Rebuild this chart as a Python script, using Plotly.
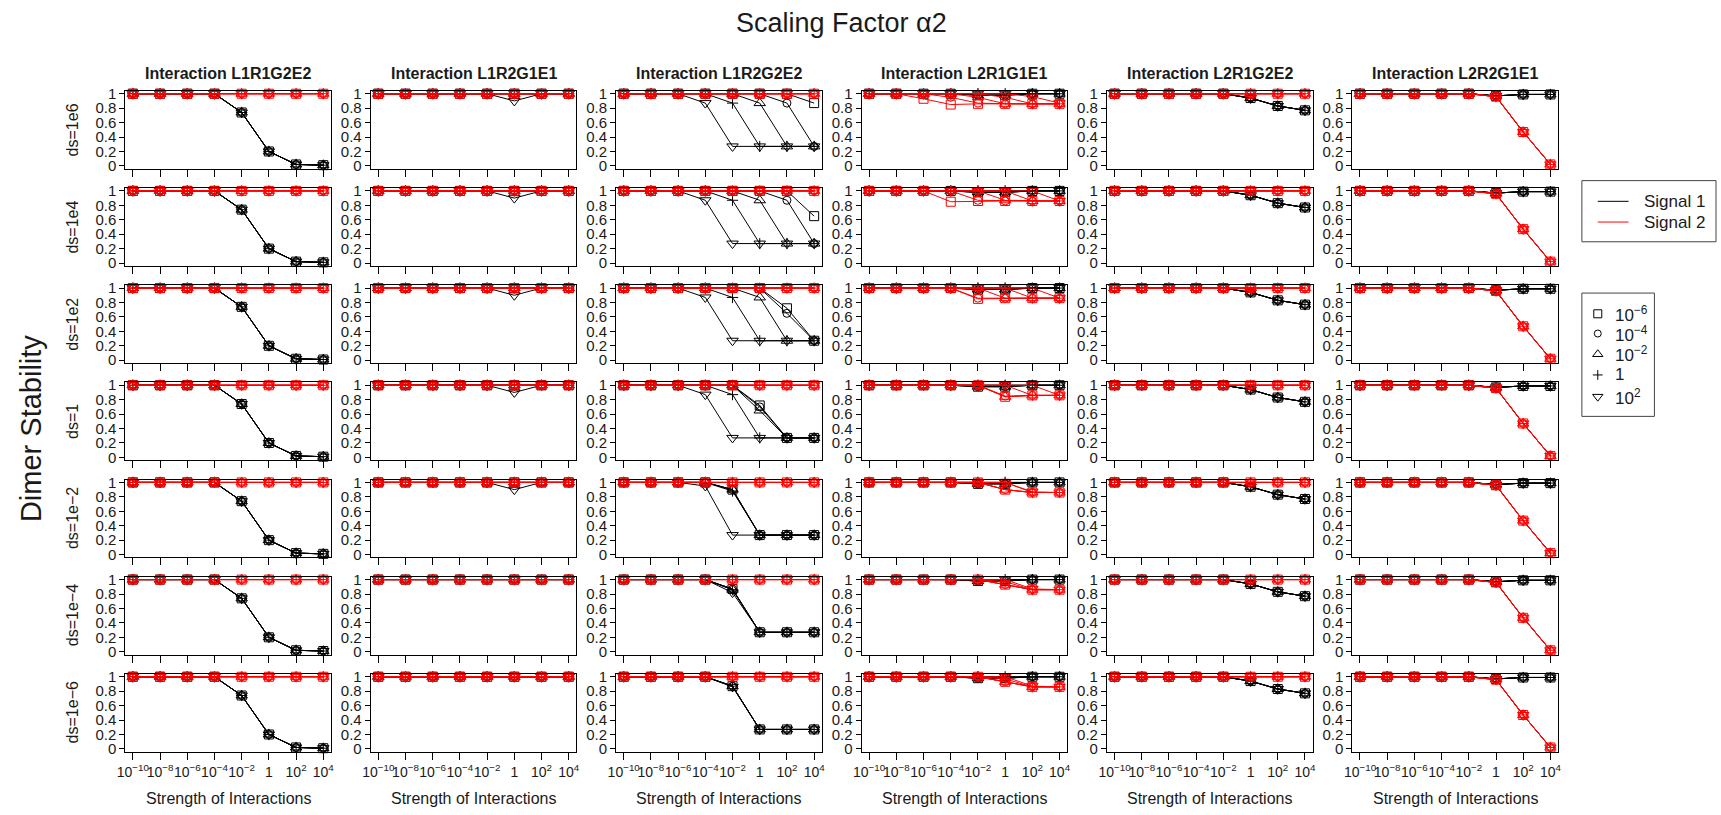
import plotly.graph_objects as go

# ---------------------------------------------------------------- data
strength = [1e-10, 1e-8, 1e-6, 1e-4, 1e-2, 1, 1e2, 1e4]
strength_labels = ["10<sup>−10</sup>", "10<sup>−8</sup>", "10<sup>−6</sup>", "10<sup>−4</sup>",
                   "10<sup>−2</sup>", "1", "10<sup>2</sup>", "10<sup>4</sup>"]
stability_ticks = [0, 0.2, 0.4, 0.6, 0.8, 1]
stability_labels = ["0", "0.2", "0.4", "0.6", "0.8", "1"]

interactions = ["L1R1G2E2", "L1R2G1E1", "L1R2G2E2", "L2R1G1E1", "L2R1G2E2", "L2R2G1E1"]
ds_labels = ["ds=1e6", "ds=1e4", "ds=1e2", "ds=1", "ds=1e−2", "ds=1e−4", "ds=1e−6"]
alpha_labels = ["10<sup>−6</sup>", "10<sup>−4</sup>", "10<sup>−2</sup>", "1", "10<sup>2</sup>"]
alpha_symbols = ["square-open", "circle-open", "triangle-up-open", "cross-thin-open", "triangle-down-open"]
alpha_sizes = [9, 8, 10, 8, 10]

FLAT = [1, 1, 1, 1, 1, 1, 1, 1]

# L1R1G2E2: same curve for every alpha and every ds
l1r1g2e2_sig1 = [1, 1, 1, 1, 0.74, 0.20, 0.02, 0.01]
l1r1g2e2_sig2 = FLAT

# L1R2G1E1: only alpha = 10^2 dips at strength 1 (ds >= 1e-2)
l1r2g1e1_dip = [1, 1, 1, 1, 1, 0.90, 1, 1]
l1r2g1e1_dip_rows = [True, True, True, True, True, False, False]
l1r2g1e1_sig2 = FLAT

# L1R2G2E2 signal 1, per ds row, per alpha (10^-6, 10^-4, 10^-2, 1, 10^2)
l1r2g2e2_sig1 = [
    [[1, 1, 1, 1, 1, 1, 1, 0.87],
     [1, 1, 1, 1, 1, 1, 0.87, 0.27],
     [1, 1, 1, 1, 1, 0.87, 0.27, 0.27],
     [1, 1, 1, 1, 0.87, 0.27, 0.27, 0.27],
     [1, 1, 1, 0.87, 0.27, 0.27, 0.27, 0.27]],
    [[1, 1, 1, 1, 1, 1, 1, 0.65],
     [1, 1, 1, 1, 1, 1, 0.87, 0.27],
     [1, 1, 1, 1, 1, 0.87, 0.27, 0.27],
     [1, 1, 1, 1, 0.87, 0.27, 0.27, 0.27],
     [1, 1, 1, 0.87, 0.27, 0.27, 0.27, 0.27]],
    [[1, 1, 1, 1, 1, 1, 0.72, 0.27],
     [1, 1, 1, 1, 1, 1, 0.65, 0.27],
     [1, 1, 1, 1, 1, 0.87, 0.27, 0.27],
     [1, 1, 1, 1, 0.87, 0.27, 0.27, 0.27],
     [1, 1, 1, 0.87, 0.27, 0.27, 0.27, 0.27]],
    [[1, 1, 1, 1, 1, 0.72, 0.27, 0.27],
     [1, 1, 1, 1, 1, 0.70, 0.27, 0.27],
     [1, 1, 1, 1, 1, 0.65, 0.27, 0.27],
     [1, 1, 1, 1, 0.87, 0.27, 0.27, 0.27],
     [1, 1, 1, 0.87, 0.27, 0.27, 0.27, 0.27]],
    [[1, 1, 1, 1, 0.90, 0.27, 0.27, 0.27],
     [1, 1, 1, 1, 0.90, 0.27, 0.27, 0.27],
     [1, 1, 1, 1, 0.90, 0.27, 0.27, 0.27],
     [1, 1, 1, 1, 0.88, 0.27, 0.27, 0.27],
     [1, 1, 1, 0.95, 0.27, 0.27, 0.27, 0.27]],
    [[1, 1, 1, 1, 0.87, 0.27, 0.27, 0.27],
     [1, 1, 1, 1, 0.87, 0.27, 0.27, 0.27],
     [1, 1, 1, 1, 0.86, 0.27, 0.27, 0.27],
     [1, 1, 1, 1, 0.86, 0.27, 0.27, 0.27],
     [1, 1, 1, 1, 0.82, 0.27, 0.27, 0.27]],
    [[1, 1, 1, 1, 0.87, 0.27, 0.27, 0.27],
     [1, 1, 1, 1, 0.87, 0.27, 0.27, 0.27],
     [1, 1, 1, 1, 0.87, 0.27, 0.27, 0.27],
     [1, 1, 1, 1, 0.87, 0.27, 0.27, 0.27],
     [1, 1, 1, 1, 0.86, 0.27, 0.27, 0.27]],
]
l1r2g2e2_sig2 = FLAT

# L2R1G1E1: signal 1 stays near 1, signal 2 settles near 0.86
l2r1g1e1_sig1 = [1, 1, 1, 1, 0.98, 0.98, 1, 1]
l2r1g1e1_sig2 = [
    [[1, 1, 0.93, 0.85, 0.86, 0.86, 0.86, 0.86],
     [1, 1, 1, 0.95, 0.87, 0.86, 0.86, 0.86],
     [1, 1, 1, 1, 0.95, 0.86, 0.86, 0.86],
     [1, 1, 1, 1, 1, 0.95, 0.86, 0.86],
     [1, 1, 1, 1, 1, 1, 0.96, 0.87]],
    [[1, 1, 1, 0.85, 0.86, 0.86, 0.86, 0.86],
     [1, 1, 1, 1, 0.87, 0.86, 0.86, 0.86],
     [1, 1, 1, 1, 1, 0.87, 0.86, 0.86],
     [1, 1, 1, 1, 1, 1, 0.86, 0.86],
     [1, 1, 1, 1, 1, 1, 1, 0.86]],
    [[1, 1, 1, 1, 0.85, 0.86, 0.86, 0.86],
     [1, 1, 1, 1, 0.86, 0.86, 0.86, 0.86],
     [1, 1, 1, 1, 1, 0.86, 0.86, 0.86],
     [1, 1, 1, 1, 1, 1, 0.86, 0.86],
     [1, 1, 1, 1, 1, 1, 1, 0.86]],
    [[1, 1, 1, 1, 1, 0.84, 0.86, 0.86],
     [1, 1, 1, 1, 1, 0.85, 0.86, 0.86],
     [1, 1, 1, 1, 1, 0.84, 0.86, 0.86],
     [1, 1, 1, 1, 1, 1, 0.86, 0.86],
     [1, 1, 1, 1, 1, 1, 1, 0.86]],
    [[1, 1, 1, 1, 1, 0.90, 0.86, 0.86],
     [1, 1, 1, 1, 1, 0.90, 0.86, 0.86],
     [1, 1, 1, 1, 1, 0.90, 0.86, 0.86],
     [1, 1, 1, 1, 1, 1, 0.86, 0.86],
     [1, 1, 1, 1, 1, 1, 0.87, 0.86]],
    [[1, 1, 1, 1, 1, 0.93, 0.86, 0.86],
     [1, 1, 1, 1, 1, 0.93, 0.86, 0.86],
     [1, 1, 1, 1, 1, 0.93, 0.86, 0.86],
     [1, 1, 1, 1, 1, 0.97, 0.86, 0.86],
     [1, 1, 1, 1, 1, 1, 0.87, 0.86]],
    [[1, 1, 1, 1, 1, 0.93, 0.86, 0.86],
     [1, 1, 1, 1, 1, 0.93, 0.86, 0.86],
     [1, 1, 1, 1, 1, 0.93, 0.86, 0.86],
     [1, 1, 1, 1, 1, 0.97, 0.86, 0.86],
     [1, 1, 1, 1, 1, 1, 0.87, 0.86]],
]

# L2R1G2E2
l2r1g2e2_sig1 = [1, 1, 1, 1, 1, 0.94, 0.83, 0.77]
l2r1g2e2_sig2 = FLAT

# L2R2G1E1
l2r2g1e1_sig1 = [1, 1, 1, 1, 1, 0.97, 0.99, 0.99]
l2r2g1e1_sig2 = [1, 1, 1, 1, 1, 0.96, 0.47, 0.02]

SIGNAL_COLORS = ["black", "red"]
signal_names = ["Signal 1", "Signal 2"]


def panel_curves(col, row):
    """Return (signal1, signal2) lists of 5 curves (one per alpha)."""
    if col == 0:
        return [l1r1g2e2_sig1] * 5, [l1r1g2e2_sig2] * 5
    if col == 1:
        s1 = [FLAT] * 4 + [l1r2g1e1_dip if l1r2g1e1_dip_rows[row] else FLAT]
        return s1, [l1r2g1e1_sig2] * 5
    if col == 2:
        return l1r2g2e2_sig1[row], [l1r2g2e2_sig2] * 5
    if col == 3:
        s1 = [l2r1g1e1_sig1] * 3 + [FLAT] * 2
        return s1, l2r1g1e1_sig2[row]
    if col == 4:
        return [l2r1g2e2_sig1] * 5, [l2r1g2e2_sig2] * 5
    return [l2r2g1e1_sig1] * 5, [l2r2g1e1_sig2] * 5


# ---------------------------------------------------------------- layout geometry (pixels)
W, H = 1721, 815
col_left = [118, 365, 612, 859, 1106, 1353]
panel_w = 207
row_top0, row_pitch, panel_h = 86, 98.5, 79

FONT = "Liberation Sans, Arial, sans-serif"
TXT = "#1a1a1a"
XTICK_SIZE = 14
YTICK_SIZE = 15


def px_x(p):
    return p / W


def px_y(p):
    return 1 - p / H


fig = go.Figure()
layout = dict(
    width=W, height=H, margin=dict(l=0, r=0, t=0, b=0),
    paper_bgcolor="white", plot_bgcolor="rgba(0,0,0,0)", showlegend=False,
    font=dict(family=FONT, color=TXT),
)

annotations = []
shapes = []

for r in range(7):
    top = row_top0 + r * row_pitch
    for c in range(6):
        k = r * 6 + c + 1
        sfx = "" if k == 1 else str(k)
        left = col_left[c]
        layout["xaxis" + sfx] = dict(
            domain=[px_x(left), px_x(left + panel_w)], anchor="y" + sfx,
            type="log", range=[-10.56, 4.56],
            tickmode="array", tickvals=strength, ticktext=strength_labels,
            showticklabels=(r == 6), tickangle=0, ticks="outside", ticklen=7, tickwidth=1,
            tickcolor="black", showline=True, mirror=True, linecolor="black",
            linewidth=1, showgrid=False, zeroline=False,
            tickfont=dict(size=XTICK_SIZE, family=FONT, color=TXT),
        )
        layout["yaxis" + sfx] = dict(
            domain=[px_y(top + panel_h), px_y(top)], anchor="x" + sfx,
            range=[-0.04, 1.04], tickmode="array",
            tickvals=stability_ticks, ticktext=stability_labels,
            ticks="outside", ticklen=5, tickwidth=1, tickcolor="black",
            showline=True, mirror=True, linecolor="black", linewidth=1,
            showgrid=False, zeroline=False,
            tickfont=dict(size=YTICK_SIZE, family=FONT, color=TXT),
        )
        sig1, sig2 = panel_curves(c, r)
        for s_idx, curves in enumerate([sig1, sig2]):
            for a_idx, yv in enumerate(curves):
                fig.add_trace(go.Scatter(
                    x=strength, y=yv, xaxis="x" + sfx, yaxis="y" + sfx,
                    mode="lines+markers", cliponaxis=False,
                    line=dict(color=SIGNAL_COLORS[s_idx], width=1),
                    marker=dict(symbol=alpha_symbols[a_idx], size=alpha_sizes[a_idx],
                                color=SIGNAL_COLORS[s_idx],
                                line=dict(color=SIGNAL_COLORS[s_idx], width=1)),
                    name=signal_names[s_idx], hoverinfo="skip",
                ))

        if r == 0:
            annotations.append(dict(
                x=px_x(left + panel_w / 2), y=px_y(68), xref="paper", yref="paper",
                text="<b>Interaction " + interactions[c] + "</b>", showarrow=False,
                font=dict(size=16, family=FONT, color=TXT), xanchor="center", yanchor="middle"))
        if r == 6:
            annotations.append(dict(
                x=px_x(left + panel_w / 2), y=px_y(803), xref="paper", yref="paper",
                text="Strength of Interactions", showarrow=False,
                font=dict(size=16, family=FONT, color=TXT), xanchor="center", yanchor="middle"))
    annotations.append(dict(
        x=px_x(65), y=px_y(top + panel_h / 2), xref="paper", yref="paper",
        text=ds_labels[r], textangle=-90, showarrow=False,
        font=dict(size=16, family=FONT, color=TXT), xanchor="center", yanchor="middle"))

# overall titles
annotations.append(dict(
    x=px_x(839), y=px_y(17), xref="paper", yref="paper", text="Scaling Factor α2",
    showarrow=False, font=dict(size=27, family=FONT, color=TXT),
    xanchor="center", yanchor="middle"))
annotations.append(dict(
    x=px_x(23), y=px_y(428), xref="paper", yref="paper", text="Dimer Stability",
    textangle=-90, showarrow=False, font=dict(size=29, family=FONT, color=TXT),
    xanchor="center", yanchor="middle"))

# legend: signals
shapes.append(dict(type="rect", xref="paper", yref="paper",
                   x0=px_x(1584), x1=px_x(1719), y0=px_y(239), y1=px_y(177),
                   line=dict(color="#444", width=1), fillcolor="white", layer="below"))
for i, (name, col) in enumerate(zip(signal_names, SIGNAL_COLORS)):
    yy = 198 + i * 21
    shapes.append(dict(type="line", xref="paper", yref="paper",
                       x0=px_x(1600), x1=px_x(1631), y0=px_y(yy), y1=px_y(yy),
                       line=dict(color=col, width=1)))
    annotations.append(dict(x=px_x(1645), y=px_y(yy), xref="paper", yref="paper",
                            text=name, showarrow=False, xanchor="left", yanchor="middle",
                            font=dict(size=17, family=FONT, color=TXT)))

# legend: alpha levels
shapes.append(dict(type="rect", xref="paper", yref="paper",
                   x0=px_x(1584), x1=px_x(1657), y0=px_y(416), y1=px_y(291),
                   line=dict(color="#444", width=1), fillcolor="white", layer="below"))
legend_rows_y = [312, 332, 353, 374, 396]
layout["xaxis99"] = dict(domain=[0, 1], range=[0, W], visible=False, anchor="y99", fixedrange=True)
layout["yaxis99"] = dict(domain=[0, 1], range=[H, 0], visible=False, anchor="x99", fixedrange=True)
for lbl, sym, sz, yy in zip(alpha_labels, alpha_symbols, alpha_sizes, legend_rows_y):
    fig.add_trace(go.Scatter(
        x=[1600], y=[yy], xaxis="x99", yaxis="y99", mode="markers",
        marker=dict(symbol=sym, size=sz - 1, color="black", line=dict(color="black", width=1)),
        hoverinfo="skip"))
    annotations.append(dict(x=px_x(1615), y=px_y(yy), xref="paper", yref="paper",
                            text=lbl, showarrow=False, xanchor="left", yanchor="middle",
                            font=dict(size=17, family=FONT, color=TXT)))

layout["annotations"] = annotations
layout["shapes"] = shapes
fig.update_layout(**layout)
fig.write_html("out.html")
